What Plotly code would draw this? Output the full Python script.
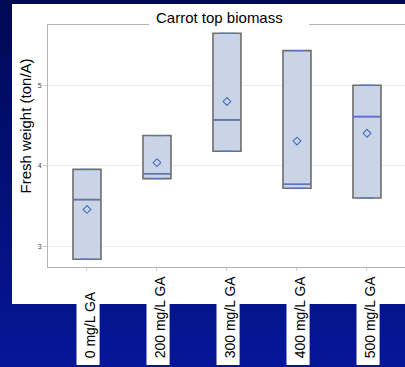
import numpy as np
import plotly.graph_objects as go

# ---------------- data ----------------
categories = ["0 mg/L GA", "200 mg/L GA", "300 mg/L GA", "400 mg/L GA", "500 mg/L GA"]
low_values = [2.84, 3.84, 4.18, 3.72, 3.60]
median_values = [3.58, 3.90, 4.57, 3.77, 4.61]
high_values = [3.955, 4.375, 5.645, 5.43, 5.00]
y_ticks = [3, 4, 5]
chart_title = "Carrot top biomass"
y_title = "Fresh weight (ton/A)"

# ---------------- layout helpers ----------------
W, H = 405, 367
L, R, T, B = 48, 0, 25, 100
PW, PH = W - L - R, H - T - B


def px(x):
    return (x - L) / PW


def py(y):
    return (H - B - y) / PH


positions = list(range(len(categories)))
x_range = [-0.557, len(categories) - 1 + 0.543]
y_range = [2.743, 5.748]

xs, ys = [], []
for i, (lo, me, hi) in enumerate(zip(low_values, median_values, high_values)):
    xs += [i, i, i]
    ys += [lo, me, hi]

fig = go.Figure()

fig.add_trace(go.Box(
    x=xs, y=ys, width=0.4, boxpoints=False, quartilemethod="exclusive",
    fillcolor="#c9d5e6", line=dict(color="#6e6e6e", width=1.6),
    whiskerwidth=0.5, showlegend=False, hoverinfo="skip",
))

# blue median lines and whisker caps
mx, my = [], []
for i in positions:
    grp = np.array(ys[3 * i:3 * i + 3])
    med = float(np.median(grp))
    mx += [i - 0.2, i + 0.2, None]
    my += [med, med, None]
    for v in (grp.min(), grp.max()):
        mx += [i - 0.1, i + 0.1, None]
        my += [float(v), float(v), None]
fig.add_trace(go.Scatter(x=mx, y=my, mode="lines",
                         line=dict(color="#5477cc", width=1.1),
                         showlegend=False, hoverinfo="skip"))

means = [float(np.mean(ys[3 * i:3 * i + 3])) for i in positions]
fig.add_trace(go.Scatter(x=positions, y=means, mode="markers",
                         marker=dict(symbol="diamond-open", size=6,
                                     color="#4a6cc4", line=dict(width=1.1)),
                         showlegend=False, hoverinfo="skip"))

# ---------------- decoration ----------------
shapes = []
N = 46
top_c = np.array([0, 9, 84])
bot_c = np.array([6, 22, 152])
for k in range(N):
    t = k / (N - 1)
    c = (top_c + (bot_c - top_c) * t).round().astype(int)
    y0 = H * k / N
    y1 = H * (k + 1) / N + 0.6
    shapes.append(dict(type="rect", xref="paper", yref="paper", layer="below",
                       x0=px(0), x1=px(W), y0=py(y1), y1=py(y0),
                       fillcolor=f"rgb({c[0]},{c[1]},{c[2]})", line=dict(width=0)))
# white panel
shapes.append(dict(type="rect", xref="paper", yref="paper", layer="below",
                   x0=px(12), x1=px(W), y0=py(304), y1=py(4),
                   fillcolor="white", line=dict(width=0)))
# white label boxes
for i in positions:
    shapes.append(dict(type="rect", xref="x", yref="paper", layer="below",
                       x0=i - 0.15, x1=i + 0.18, y0=py(365), y1=py(300),
                       fillcolor="white", line=dict(width=0)))
# white title box covering frame line
shapes.append(dict(type="rect", xref="paper", yref="paper", layer="above",
                   x0=px(149), x1=px(309), y0=py(27), y1=py(4),
                   fillcolor="white", line=dict(width=0)))

annotations = [
    dict(text=chart_title, x=px(219), y=py(17), xref="paper", yref="paper",
         showarrow=False, xanchor="center", yanchor="middle",
         font=dict(size=15, color="black")),
    dict(text=y_title, x=px(25), y=py(126.5), xref="paper", yref="paper",
         showarrow=False, xanchor="center", yanchor="middle", textangle=-90,
         font=dict(size=15, color="black")),
]
for i, cat in zip(positions, categories):
    annotations.append(dict(text=cat, x=i + 0.04, xref="x", y=py(359), yref="paper",
                            showarrow=False, xanchor="center", yanchor="bottom",
                            textangle=-90, borderpad=0,
                            font=dict(size=14, color="black")))

fig.update_layout(
    width=W, height=H, autosize=False,
    margin=dict(l=L, r=R, t=T, b=B, pad=0),
    paper_bgcolor="rgb(3,16,120)", plot_bgcolor="white",
    font=dict(family="Arial, Liberation Sans, sans-serif"),
    shapes=shapes, annotations=annotations,
    xaxis=dict(range=x_range, tickvals=positions, showticklabels=False,
               ticks="outside", ticklen=3, tickcolor="#cfcfcf",
               showgrid=False, zeroline=False, showline=True,
               linecolor="#b4b4b4", linewidth=1, mirror=True, fixedrange=True),
    yaxis=dict(range=y_range, tickvals=y_ticks, ticks="outside", ticklen=4,
               tickcolor="#cfcfcf", tickfont=dict(size=7, color="#444444"),
               showgrid=True, gridcolor="#ececec", zeroline=False,
               showline=True, linecolor="#b4b4b4", linewidth=1, fixedrange=True),
)

fig.write_html("out.html", config={"displayModeBar": False})
